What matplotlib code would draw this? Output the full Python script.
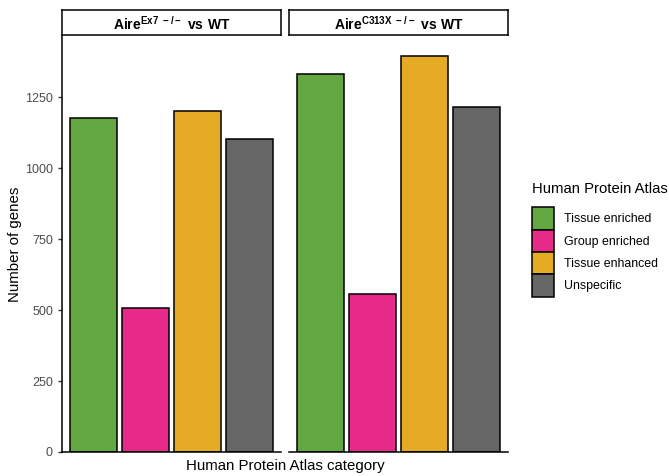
import matplotlib
matplotlib.use("Agg")
import matplotlib.pyplot as plt
from matplotlib.patches import Patch

plt.rcParams['font.family'] = ['Liberation Sans', 'DejaVu Sans']
plt.rcParams['mathtext.fontset'] = 'custom'
plt.rcParams['mathtext.bf'] = 'Liberation Sans:bold'
plt.rcParams['mathtext.rm'] = 'Liberation Sans'

categories = ['Tissue enriched', 'Group enriched', 'Tissue enhanced', 'Unspecific']
colors = ['#63A742', '#E7298A', '#E5AB25', '#666666']
panels = [r'$\mathbf{Aire^{Ex7\ -/-}\ vs\ WT}$', r'$\mathbf{Aire^{C313X\ -/-}\ vs\ WT}$']
ex7_counts = [1176, 508, 1201, 1102]
c313x_counts = [1332, 555, 1396, 1217]
counts = [ex7_counts, c313x_counts]
yticks = [0, 250, 500, 750, 1000, 1250]

W, H = 669, 476
fig = plt.figure(figsize=(W / 100, H / 100), dpi=100)

def fx(px):
    return px / W

def fy(px):
    return 1 - px / H

lefts = [62, 289]
pw = 219
ymax = max(max(c) for c in counts) * 1.05

for i, (lab, vals) in enumerate(zip(panels, counts)):
    ax = fig.add_axes([fx(lefts[i]), fy(452), pw / W, (452 - 36) / H])
    x = range(1, len(vals) + 1)
    ax.bar(x, vals, width=0.9, color=colors, edgecolor='black', linewidth=1.1)
    ax.set_xlim(0.4, 4.6)
    ax.set_ylim(0, ymax)
    ax.set_xticks([])
    for s in ['top', 'right']:
        ax.spines[s].set_visible(False)
    ax.spines['bottom'].set_linewidth(1.1)
    if i == 0:
        ax.spines['left'].set_linewidth(1.1)
        ax.set_yticks(yticks)
        ax.tick_params(axis='y', labelsize=9, labelcolor='#4D4D4D', color='#333333',
                       length=3, width=1)
        ax.set_ylabel('Number of genes', fontsize=10.8, labelpad=2)
    else:
        ax.spines['left'].set_visible(False)
        ax.set_yticks([])
    # strip
    sax = fig.add_axes([fx(lefts[i]), fy(35), pw / W, 25 / H])
    sax.set_xticks([])
    sax.set_yticks([])
    for s in sax.spines.values():
        s.set_linewidth(1.1)
    sax.text(0.5, 0.45, lab, ha='center', va='center', fontsize=10, transform=sax.transAxes)

fig.text(fx(285), fy(466), 'Human Protein Atlas category', ha='center', va='center', fontsize=10.8)

handles = [Patch(facecolor=c, edgecolor='black', linewidth=1.1) for c in colors]
leg = fig.legend(handles, categories, title='Human Protein Atlas', loc='upper left',
                 bbox_to_anchor=(fx(526), fy(176)), frameon=False, fontsize=8.9,
                 title_fontsize=10.7, handlelength=1.75, handleheight=2.4,
                 handletextpad=0.8, labelspacing=0.0, borderaxespad=0, borderpad=0.5)
leg._legend_box.align = 'left'
leg._legend_box.sep = 8

fig.savefig('out.png', dpi=100)
